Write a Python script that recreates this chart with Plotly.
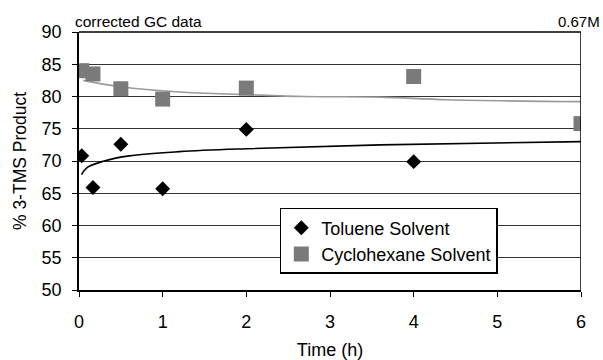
import plotly.graph_objects as go

# Data
toluene_time = [0.033, 0.167, 0.5, 1, 2, 4]
toluene_pct = [70.8, 65.9, 72.6, 65.7, 74.9, 69.9]
cyclo_time = [0.033, 0.167, 0.5, 1, 2, 4, 6]
cyclo_pct = [84.0, 83.5, 81.2, 79.6, 81.3, 83.1, 75.8]

# Trend lines
tol_trend_time = [0.03, 0.1, 0.3, 0.6, 1.2, 2, 3.6, 6]
tol_trend_pct = [67.9, 69.0, 70.0, 70.8, 71.45, 71.9, 72.5, 73.0]
cyc_trend_time = [0.05, 0.5, 1.2, 2, 2.7, 3.6, 4.4, 6]
cyc_trend_pct = [82.5, 81.5, 80.7, 80.3, 80.0, 79.9, 79.5, 79.2]

y_ticks = [50, 55, 60, 65, 70, 75, 80, 85, 90]
x_ticks = [0, 1, 2, 3, 4, 5, 6]

fig = go.Figure()
fig.add_trace(go.Scatter(x=cyc_trend_time, y=cyc_trend_pct, mode="lines",
                         line=dict(color="#9a9a9a", width=1.6, shape="spline"),
                         showlegend=False, hoverinfo="skip"))
fig.add_trace(go.Scatter(x=tol_trend_time, y=tol_trend_pct, mode="lines",
                         line=dict(color="black", width=1.6, shape="spline"),
                         showlegend=False, hoverinfo="skip"))
fig.add_trace(go.Scatter(x=toluene_time, y=toluene_pct, mode="markers",
                         name="Toluene Solvent",
                         marker=dict(symbol="diamond", size=11.5, color="black")))
fig.add_trace(go.Scatter(x=cyclo_time, y=cyclo_pct, mode="markers",
                         name="Cyclohexane Solvent",
                         marker=dict(symbol="square", size=15, color="#7a7a7a")))

font_family = "Liberation Sans, Arial, sans-serif"
fig.update_layout(
    width=603, height=360,
    margin=dict(l=79, r=22, t=32, b=70, autoexpand=False),
    paper_bgcolor="white", plot_bgcolor="white",
    font=dict(family=font_family, color="black"),
    xaxis=dict(range=[0, 6], tickvals=x_ticks, showgrid=False, zeroline=False,
               automargin=False,
               showline=True, linecolor="black", linewidth=1.5, mirror=False,
               ticks="outside", ticklen=5, tickcolor="black",
               tickfont=dict(size=18), ticklabelstandoff=10,
               title=dict(text="Time (h)", font=dict(size=18), standoff=17)),
    yaxis=dict(range=[50, 90], tickvals=y_ticks, showgrid=True, gridcolor="#333333",
               automargin=False,
               gridwidth=1, zeroline=False, showline=True, linecolor="black",
               linewidth=1.5, ticks="outside", ticklen=5, tickcolor="black",
               tickfont=dict(size=18), ticklabelstandoff=7,
               title=dict(text="% 3-TMS Product", font=dict(size=17.5), standoff=10)),
    legend=dict(x=0.40, y=0.318, xanchor="left", yanchor="top",
                bgcolor="white", bordercolor="black", borderwidth=1.5,
                font=dict(size=18), itemwidth=30, tracegroupgap=0),
    shapes=[
        dict(type="line", xref="x", yref="paper", x0=6, x1=6, y0=0, y1=1,
             line=dict(color="black", width=1.5)),
        dict(type="line", xref="paper", yref="paper", x0=0, x1=1, y0=1, y1=1,
             line=dict(color="black", width=1.5)),
    ],
    annotations=[
        dict(text="corrected GC data", xref="paper", yref="paper", x=-0.012, y=1.0,
             xanchor="left", yanchor="bottom", showarrow=False, font=dict(size=15.5)),
        dict(text="0.67M", xref="paper", yref="paper", x=1.042, y=1.0,
             xanchor="right", yanchor="bottom", showarrow=False, font=dict(size=15)),
    ],
)

fig.write_html("out.html", post_script="document.body.style.margin='0';",
               config={"displayModeBar": False})
